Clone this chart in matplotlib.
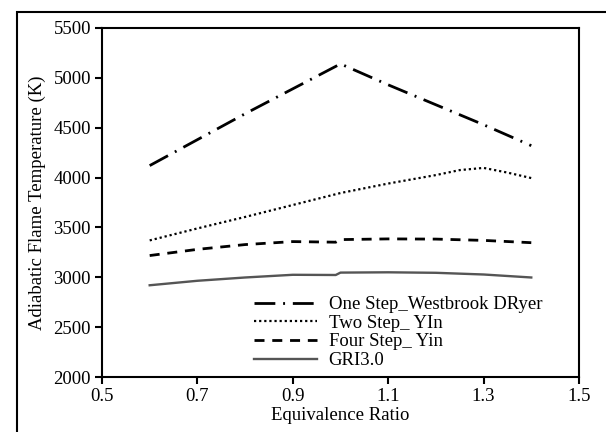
import matplotlib
matplotlib.use("Agg")
import matplotlib.pyplot as plt
from matplotlib.patches import Rectangle

plt.rcParams["font.family"] = ["Liberation Serif", "DejaVu Serif"]
plt.rcParams["font.size"] = 13.5

# equivalence ratio vs adiabatic flame temperature (K)
phi_one = [0.6, 0.7, 0.8, 0.9, 1.0, 1.1, 1.2, 1.3, 1.4]
t_one_step = [4120, 4380, 4640, 4890, 5140, 4930, 4730, 4530, 4320]

phi_two = [0.6, 0.7, 0.8, 0.9, 1.0, 1.1, 1.2, 1.25, 1.3, 1.35, 1.4]
t_two_step = [3370, 3490, 3605, 3725, 3845, 3940, 4025, 4075, 4097, 4050, 3995]

phi = [0.6, 0.7, 0.8, 0.9, 0.99, 1.0, 1.1, 1.2, 1.3, 1.4]
t_four_step = [3218, 3280, 3328, 3358, 3352, 3378, 3385, 3383, 3370, 3347]
t_gri = [2920, 2965, 2998, 3025, 3023, 3047, 3050, 3045, 3028, 2998]

x_ticks = [0.5, 0.7, 0.9, 1.1, 1.3, 1.5]
y_ticks = [2000, 2500, 3000, 3500, 4000, 4500, 5000, 5500]

fig = plt.figure(figsize=(6.06, 4.32), dpi=100)
ax = fig.add_axes([0.1683, 0.1273, 0.7871, 0.8079])

ax.plot(phi_one, t_one_step, color="black", lw=2.0, dashes=(7.5, 2.8, 0.7, 2.8),
        label="One Step_Westbrook DRyer")
ax.plot(phi_two, t_two_step, color="black", lw=1.6, dashes=(1, 1.3),
        label="Two Step_ YIn")
ax.plot(phi, t_four_step, color="black", lw=2.0, dashes=(3.6, 2.8),
        label="Four Step_ Yin")
ax.plot(phi, t_gri, color="#555555", lw=1.7, label="GRI3.0")

ax.set_xlim(0.5, 1.5)
ax.set_ylim(2000, 5500)
ax.set_xticks(x_ticks)
ax.set_xticklabels([f"{v:.1f}" for v in x_ticks])
ax.set_yticks(y_ticks)
ax.tick_params(direction="out", length=5, width=1.5, pad=3)
for s in ax.spines.values():
    s.set_linewidth(1.5)

ax.set_xlabel("Equivalence Ratio", labelpad=1)
ax.set_ylabel("Adiabatic Flame Temperature (K)", labelpad=5)

ax.legend(loc="lower left", bbox_to_anchor=(0.31, 0.012), frameon=False,
          handlelength=3.4, handletextpad=0.6, labelspacing=0.08,
          borderpad=0.2, borderaxespad=0)

# outer frame around the figure
fig.patches.append(Rectangle((17 / 606, -0.1), 1.2, 1.1 - 12 / 432,
                             transform=fig.transFigure, fill=False,
                             edgecolor="black", lw=1.5))

fig.savefig("out.png", dpi=100)
